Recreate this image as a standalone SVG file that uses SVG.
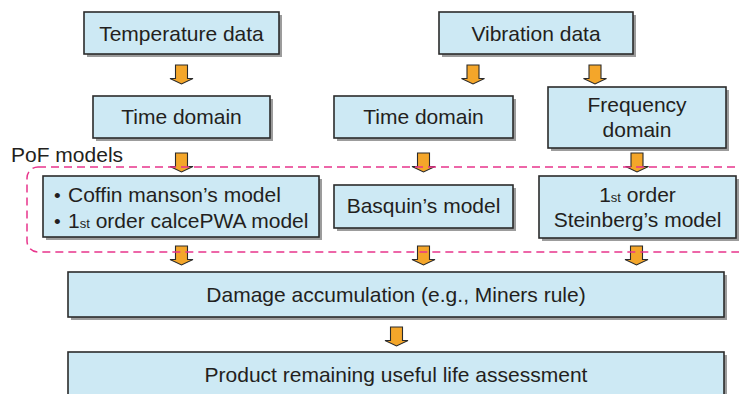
<svg xmlns="http://www.w3.org/2000/svg" width="739" height="394" viewBox="0 0 739 394">
<defs>
<style>
.box{fill:#cde9f4;stroke:#2b2b2b;stroke-width:1.6}
.sh{fill:#9c9c9c}
.t{font-family:"Liberation Sans",Arial,sans-serif;font-size:21px;fill:#231f20}
.c{text-anchor:middle}
.sub{font-size:13px}
.bul{font-size:19px}
.arr{fill:#f4a62a;stroke:#2b2b2b;stroke-width:1.1;stroke-linejoin:miter}
.dash{fill:none;stroke:#e8358c;stroke-width:1.5;stroke-dasharray:8 5}
</style>
<path id="a" d="M-6,0 H6 V13.5 H11.5 L0,19 L-11.5,13.5 H-6 Z"/>
</defs>
<rect width="739" height="394" fill="#ffffff"/>

<g id="temperature-data">
<rect class="sh" x="87" y="15" width="195" height="42"/>
<rect class="box" x="84" y="12" width="195" height="42"/>
<text class="t c" x="181.5" y="41">Temperature data</text>
</g>
<g id="vibration-data">
<rect class="sh" x="442" y="15" width="194" height="42"/>
<rect class="box" x="439" y="12" width="194" height="42"/>
<text class="t c" x="536" y="41">Vibration data</text>
</g>
<g id="time-domain-1">
<rect class="sh" x="96" y="99" width="177" height="42"/>
<rect class="box" x="93" y="96" width="177" height="42"/>
<text class="t c" x="181.5" y="124">Time domain</text>
</g>
<g id="time-domain-2">
<rect class="sh" x="337" y="99" width="179" height="42"/>
<rect class="box" x="334" y="96" width="179" height="42"/>
<text class="t c" x="423.5" y="124">Time domain</text>
</g>
<g id="frequency-domain">
<rect class="sh" x="551" y="90" width="178" height="61"/>
<rect class="box" x="548" y="87" width="178" height="61"/>
<text class="t c" x="637" y="112">Frequency</text>
<text class="t c" x="637" y="137">domain</text>
</g>
<g id="pof-label">
<text class="t" x="11" y="162">PoF models</text>
</g>
<g id="coffin-model">
<rect class="sh" x="46" y="179" width="276" height="61"/>
<rect class="box" x="43" y="176" width="276" height="61"/>
<text class="t bul" x="54" y="202">•</text>
<text class="t" x="68" y="202">Coffin manson’s model</text>
<text class="t bul" x="54" y="228">•</text>
<text class="t" x="68" y="228">1<tspan class="sub">st</tspan> order calcePWA model</text>
</g>
<g id="basquin-model">
<rect class="sh" x="337" y="188" width="179" height="43"/>
<rect class="box" x="334" y="185" width="179" height="43"/>
<text class="t c" x="423.5" y="213">Basquin’s model</text>
</g>
<g id="steinberg-model">
<rect class="sh" x="542" y="179" width="197" height="62"/>
<rect class="box" x="539" y="176" width="197" height="62"/>
<text class="t c" x="637.5" y="202">1<tspan class="sub">st</tspan> order</text>
<text class="t c" x="637.5" y="227">Steinberg’s model</text>
</g>
<g id="damage-accumulation">
<rect class="sh" x="71" y="275" width="656" height="45"/>
<rect class="box" x="68" y="272" width="656" height="45"/>
<text class="t c" x="396" y="302">Damage accumulation (e.g., Miners rule)</text>
</g>
<g id="remaining-life">
<rect class="sh" x="71" y="355" width="656" height="50"/>
<rect class="box" x="68" y="352" width="656" height="50"/>
<text class="t c" x="396" y="382">Product remaining useful life assessment</text>
</g>

<g id="connectors">
<use href="#a" class="arr" x="181.5" y="65"/>
<use href="#a" class="arr" x="473" y="65"/>
<use href="#a" class="arr" x="595" y="65"/>
<use href="#a" class="arr" x="181.5" y="153"/>
<use href="#a" class="arr" x="423.5" y="153"/>
<use href="#a" class="arr" x="637" y="153"/>
<use href="#a" class="arr" x="181.5" y="246"/>
<use href="#a" class="arr" x="423.5" y="246"/>
<use href="#a" class="arr" x="636.5" y="246"/>
<use href="#a" class="arr" x="396.5" y="327"/>
</g>

<g id="pof-group">
<rect class="dash" x="27" y="167" width="740" height="85" rx="11"/>
</g>
</svg>
